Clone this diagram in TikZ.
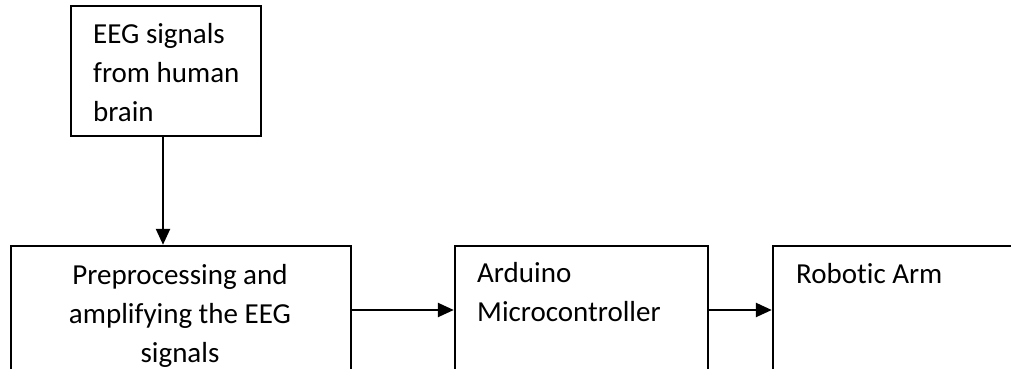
\documentclass[tikz,border=0pt]{standalone}
\usepackage{fontspec}
\setmainfont{Carlito}[Ligatures=NoCommon]
\usepackage{xcolor}
\usepackage{tikz}
\usetikzlibrary{positioning, calc, arrows.meta}

\begin{document}
\begin{tikzpicture}[x=1pt, y=1pt,
        blockbox/.style={draw=black, line width=2.4pt, inner sep=0pt, minimum height=128pt},
        blocktext/.style={font=\fontsize{29}{39}\selectfont, inner sep=0pt},
        flowarrow/.style={-{Triangle[length=16pt, width=14pt]}, line width=2.4pt}]

        % Khung trang
        \useasboundingbox (0, 0) rectangle (1011, 369);
        \clip (0, 0) rectangle (1011, 369);

        % 1. Khối nguồn tín hiệu EEG (base = dòng cuối)
        \node[blockbox, minimum width=190pt, minimum height=130pt] (eeg) at (166, 298) {};
        \node[blocktext, align=left, anchor=base west] (eegtext) at (93, 247)
            {EEG signals\\from human\\brain};

        % 2. Các khối ở hàng dưới (tiền xử lý, Arduino, cánh tay robot)
        \node[blockbox, minimum width=340pt] (prep) at (181, 59) {};
        \begin{scope}
            % dòng cuối bị cắt ở mép dưới
            \clip (0, 2) rectangle (1011, 369);
            \node[blocktext, align=center, anchor=base] (preptext) at (180, 6)
                {Preprocessing and\\amplifying the EEG\\signals};
        \end{scope}

        \node[blockbox, minimum width=253pt] (arduino) at (581.5, 59) {};
        \node[blocktext, align=left, anchor=base west] (arduinotext) at (477, 47)
            {Arduino\\Microcontroller};

        \node[blockbox, minimum width=267pt] (arm) at (906.5, 59) {};
        \node[blocktext, align=left, anchor=base west] (armtext) at (796, 85)
            {Robotic Arm};

        % 3. Mũi tên nối các khối
        \draw[flowarrow] ([xshift=-3pt]eeg.south) -- ([xshift=-3pt]eeg.south |- prep.north);
        \draw[flowarrow] (prep.east) -- (arduino.west);
        \draw[flowarrow] (arduino.east) -- (arm.west);

    \end{tikzpicture}
\end{document}
